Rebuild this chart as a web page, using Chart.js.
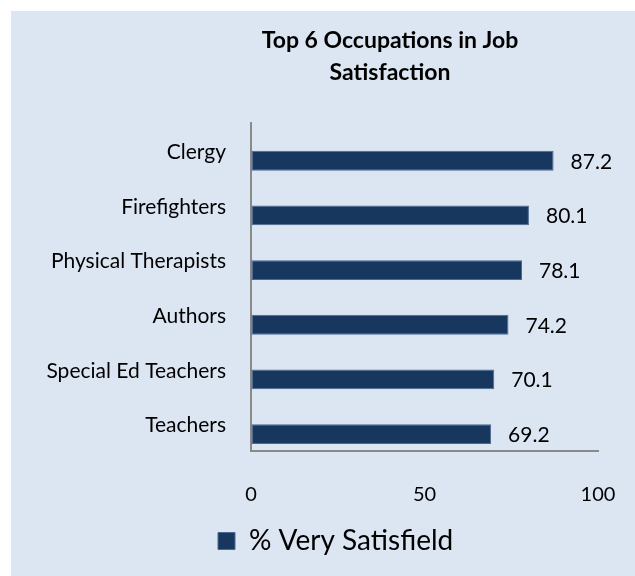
<!DOCTYPE html>
<html>
<head>
<meta charset="utf-8">
<script src="https://cdn.jsdelivr.net/npm/chart.js@4.4.1/dist/chart.umd.min.js"></script>
<style>
  html, body { margin: 0; padding: 0; background: #ffffff; }
  #panel {
    position: absolute; left: 11px; top: 11px;
    width: 624px; height: 565px; background: #dce6f2;
  }
</style>
</head>
<body>
<div id="panel"><canvas id="jobChart" width="624" height="565"></canvas></div>
<script>
// chart data
const occupations = ['Clergy', 'Firefighters', 'Physical Therapists', 'Authors', 'Special Ed Teachers', 'Teachers'];
const verySatisfied = [87.2, 80.1, 78.1, 74.2, 70.1, 69.2];
const seriesName = '% Very Satisfield';
const titleLines = ['Top 6 Occupations in Job', 'Satisfaction'];
const xTicks = [0, 50, 100];

const FONT = 'Lato, "Open Sans", sans-serif';

// title drawn centred on a fixed point, like the excel chart
const titlePlugin = {
    id: 'fixedTitle',
    afterDraw(chart) {
        const ctx = chart.ctx;
        ctx.save();
        ctx.font = 'bold 23px ' + FONT;
        ctx.fillStyle = '#000000';
        ctx.textAlign = 'center';
        ctx.textBaseline = 'middle';
        titleLines.forEach((line, i) => ctx.fillText(line, 379, 30 + i * 32));
        ctx.restore();
    }
};

// value labels right of each bar
const valueLabels = {
    id: 'valueLabels',
    afterDatasetsDraw(chart) {
        const ctx = chart.ctx;
        const meta = chart.getDatasetMeta(1);
        ctx.save();
        ctx.font = '21px ' + FONT;
        ctx.fillStyle = '#000000';
        ctx.textAlign = 'left';
        ctx.textBaseline = 'middle';
        meta.data.forEach((bar, i) => {
            ctx.fillText(verySatisfied[i].toFixed(1), bar.x + 17, bar.y + 1);
        });
        ctx.restore();
    }
};

// legend sits left of centre in the original, move its box
const legendShift = {
    id: 'legendShift',
    afterLayout(chart) {
        chart.legend.left = 197;
    }
};

const data = {
    labels: occupations,
    datasets: [
        {
            // empty slot, pushes the real bars below the category centre
            label: '',
            data: occupations.map(() => null),
            backgroundColor: 'rgba(0,0,0,0)'
        },
        {
            label: seriesName,
            data: verySatisfied,
            backgroundColor: '#17375e',
            borderColor: '#4a6a93',
            borderWidth: 1,
            borderSkipped: false
        }
    ]
};

const config = {
    type: 'bar',
    data: data,
    options: {
        indexAxis: 'y',
        responsive: false,
        maintainAspectRatio: false,
        animation: false,
        categoryPercentage: 0.764,
        barPercentage: 0.95,
        layout: {
            padding: { top: 112, left: 20, right: 37, bottom: 11 }
        },
        scales: {
            x: {
                min: 0,
                max: 100,
                afterBuildTicks: (scale) => { scale.ticks = xTicks.map(v => ({ value: v })); },
                afterFit: (scale) => { scale.height = 66; },
                grid: { display: true, drawOnChartArea: false, drawTicks: true, tickLength: 24, color: 'rgba(0,0,0,0)' },
                border: { display: true, color: '#8a8a8a', width: 2 },
                ticks: {
                    padding: 8,
                    color: '#000000',
                    font: { family: FONT, size: 20 }
                }
            },
            y: {
                afterFit: (scale) => { scale.width = 220; },
                grid: { display: false, drawTicks: false },
                border: { display: true, color: '#8a8a8a', width: 2 },
                ticks: {
                    padding: 25,
                    labelOffset: 2,
                    color: '#000000',
                    font: { family: FONT, size: 21 }
                }
            }
        },
        plugins: {
            title: { display: false },
            tooltip: { enabled: false },
            legend: {
                position: 'bottom',
                align: 'start',
                labels: {
                    filter: (item) => item.datasetIndex === 1,
                    boxWidth: 17,
                    boxHeight: 17,
                    padding: 10,
                    color: '#000000',
                    font: { family: FONT, size: 28 }
                }
            }
        }
    },
    plugins: [titlePlugin, valueLabels, legendShift]
};

new Chart(document.getElementById('jobChart'), config);
</script>
</body>
</html>
